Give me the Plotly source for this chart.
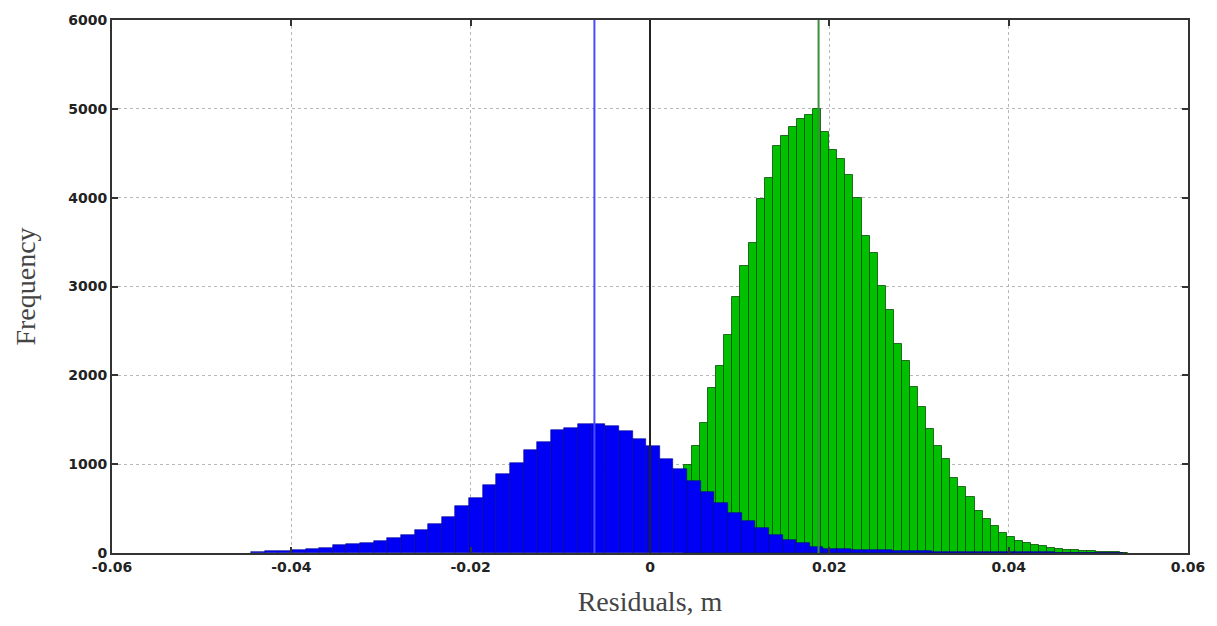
import plotly.graph_objects as go

# ---- data ----
# Blue histogram: bins of equal width starting at blue_start
blue_start = -0.0445
blue_width = 0.00152
blue_counts = [15, 20, 28, 36, 48, 60, 85, 100, 116, 140, 165, 202, 258, 322, 407,
               527, 624, 763, 886, 1013, 1163, 1248, 1387, 1410, 1455, 1455, 1435,
               1379, 1286, 1200, 1062, 950, 810, 690, 560, 450, 360, 280, 205, 148,
               108, 72, 50, 42, 38, 34, 30, 26, 22, 18, 16, 14, 12, 11, 10, 9, 8, 7,
               6, 5, 5, 4, 3, 3]

# Green histogram
green_start = 0.00379
green_width = 0.0009
green_counts = [990, 1210, 1460, 1860, 2110, 2450, 2880, 3230, 3490, 3980, 4220, 4580,
                4690, 4800, 4880, 4930, 5000,
                4740, 4540, 4430, 4260, 4000, 3570, 3380, 3010, 2730, 2350, 2160, 1870,
                1640, 1400, 1210, 1060, 840,
                740, 630, 470, 380, 300, 230, 175, 140, 112, 92, 75, 58, 45, 36, 30, 24,
                19, 15, 11, 8, 5]

# Vertical reference lines
blue_mean = -0.0062
green_mean = 0.0188
zero_ref = 0.0

x_ticks = [-0.06, -0.04, -0.02, 0, 0.02, 0.04, 0.06]
x_tick_text = ["-0.06", "-0.04", "-0.02", "0", "0.02", "0.04", "0.06"]
y_ticks = [0, 1000, 2000, 3000, 4000, 5000, 6000]
y_tick_text = ["0", "1000", "2000", "3000", "4000", "5000", "6000"]

# ---- build figure ----
blue_x = [blue_start + (i + 0.5) * blue_width for i in range(len(blue_counts))]
green_x = [green_start + (i + 0.5) * green_width for i in range(len(green_counts))]

fig = go.Figure()
fig.add_trace(go.Bar(
    x=green_x, y=green_counts, width=green_width,
    marker=dict(color="#00c000", line=dict(color="rgba(0,70,0,0.75)", width=1)),
    showlegend=False,
))
fig.add_trace(go.Bar(
    x=blue_x, y=blue_counts, width=blue_width,
    marker=dict(color="#0000f5", line=dict(color="#000090", width=0.6)),
    showlegend=False,
))

for xv, col in [(blue_mean, "#4a4aff"), (green_mean, "#3a8f3a"), (zero_ref, "#222222")]:
    fig.add_shape(type="line", x0=xv, x1=xv, y0=0, y1=6000, xref="x", yref="y",
                  line=dict(color=col, width=2), layer="above")

tick_font = dict(family="DejaVu Sans", size=14, color="#222", weight="bold")
axis_common = dict(
    showline=True, linecolor="#333", linewidth=2, mirror="ticks",
    ticks="inside", ticklen=6, tickwidth=2, tickcolor="#333",
    showgrid=True, gridcolor="#b8b8b8", griddash="dot", gridwidth=1,
    zeroline=False, tickfont=tick_font,
)

fig.update_layout(
    width=1217, height=626,
    margin=dict(l=112, r=27, t=18, b=73),
    plot_bgcolor="white", paper_bgcolor="white",
    barmode="overlay", bargap=0,
    xaxis=dict(range=[-0.06, 0.06], tickvals=x_ticks, ticktext=x_tick_text,
               title=dict(text="Residuals, m", standoff=18,
                          font=dict(family="Liberation Serif", size=28, color="#444")),
               **axis_common),
    yaxis=dict(range=[0, 6000], tickvals=y_ticks, ticktext=y_tick_text,
               title=dict(text="Frequency", standoff=24,
                          font=dict(family="Liberation Serif", size=28, color="#444")),
               **axis_common),
)

fig.write_html("out.html")
